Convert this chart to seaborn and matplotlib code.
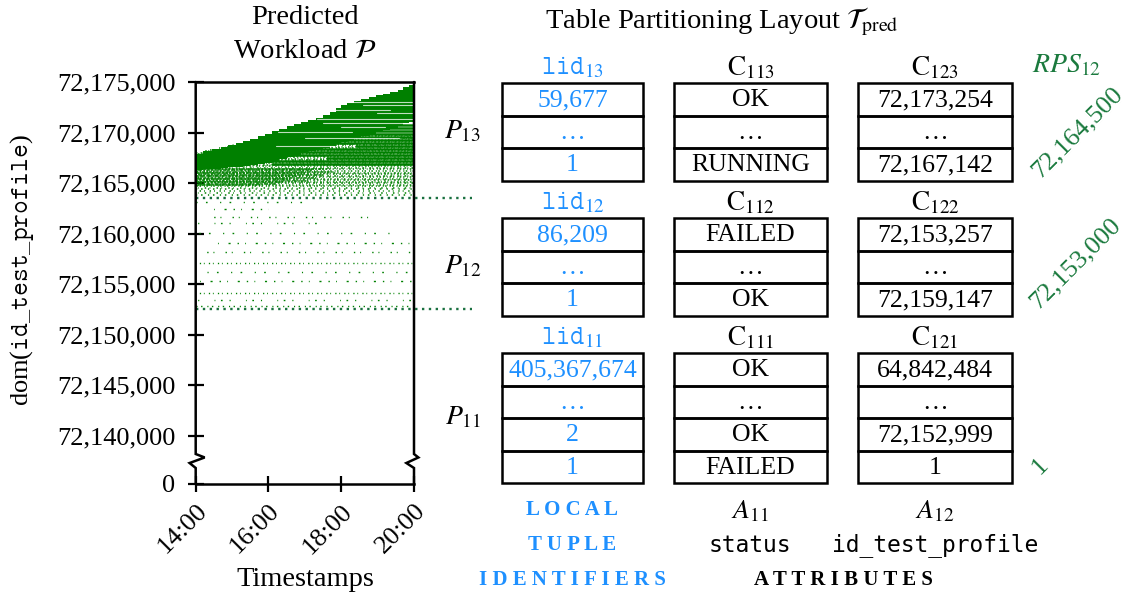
import numpy as np
import pandas as pd
import matplotlib
matplotlib.use("Agg")
import matplotlib.pyplot as plt
import seaborn as sns
from matplotlib.patches import Rectangle

# ---------------- workload data ----------------
env_time = [14.00, 14.20, 14.45, 14.70, 14.90, 15.10, 15.30, 15.50, 15.70, 15.90,
            16.10, 16.30, 16.50, 16.70, 16.90, 17.10, 17.30, 17.50, 17.70, 17.85,
            18.00, 18.15, 18.35, 18.55, 18.75, 18.95, 19.15, 19.35, 19.55, 19.70,
            19.85, 20.00]
env_top = [72167900, 72168150, 72168400, 72168600, 72168750, 72168950, 72169150,
           72169400, 72169650, 72169900, 72170150, 72170400, 72170600, 72170800,
           72171050, 72171250, 72171450, 72171700, 72172050, 72172400, 72172700,
           72172950, 72173150, 72173350, 72173550, 72173700, 72173850, 72174000,
           72174250, 72174500, 72174700, 72174750]
env_base = [72166300, 72166350, 72166400, 72166500, 72166550, 72166600, 72166700,
            72166800, 72166900, 72167000, 72167200, 72167400, 72167600, 72167800,
            72168000, 72168200, 72168300, 72168500, 72168700, 72168900, 72169100,
            72169300, 72169500, 72169700, 72169900, 72170100, 72170300, 72170500,
            72170700, 72170900, 72171000, 72171000]

# long running queries (run until the end of the window)
long_val = [72170750, 72170450, 72170200, 72169850, 72169550, 72169250, 72168950,
            72168650, 72168350, 72168050, 72167750, 72167450, 72167150, 72166850]
long_start = [16.90, 17.40, 16.60, 17.90, 16.30, 17.20, 15.90,
              18.40, 15.50, 16.80, 15.20, 17.60, 14.90, 16.10]

# light streaks inside the dense block
gap_val = [72173050, 72172730, 72172230, 72171900, 72171300, 72170900, 72170580,
           72170090, 72169500, 72168700]
gap_start = [18.15, 18.60, 17.77, 18.97, 17.33, 17.50, 18.00, 16.27, 17.00, 16.20]
gap_end = [20.00, 20.00, 19.34, 20.00, 20.00, 20.00, 19.20, 18.30, 19.60, 17.80]

# dense scattered accesses just below the block (whole window)
dense_val = [72169800, 72169650, 72169500, 72169350, 72169200, 72169050, 72168900,
             72168750, 72168600, 72168450, 72168300, 72168150, 72168000, 72167850,
             72167700, 72167550, 72167400, 72167250, 72167100, 72166950, 72166800,
             72166650, 72166500, 72166350, 72166200, 72166050, 72165900, 72165750,
             72165600, 72165450, 72165300, 72165150, 72165000, 72164850, 72164700,
             72164550, 72164400, 72164250, 72164050, 72163850]
dense_start = [16.80, 16.40, 16.10, 15.90, 15.60, 15.40, 15.20,
               15.00, 14.80, 14.60, 14.40, 14.20, 14.00, 14.00,
               14.00, 14.00, 14.00, 14.00, 14.00, 14.00, 14.00,
               14.00, 14.00, 14.00, 14.00, 14.00, 14.00, 14.00,
               14.00, 14.00, 14.00, 14.00, 14.00, 14.00, 14.00,
               14.00, 14.00, 14.00, 14.00, 14.00]
# extra-dense accesses early in the window
early_val = [72166425, 72166275, 72166125, 72165975, 72165825, 72165675, 72165525,
             72165375, 72165225, 72165075, 72164925, 72164775]
early_end = [17.60, 17.20, 17.80, 17.00, 17.50, 16.80, 17.30, 16.60, 17.10, 16.40,
             16.20, 15.80]

# sparse accesses in the middle partition
sparse_val = [72163150, 72162400, 72161650, 72161050, 72160050, 72159100, 72158200,
              72157100, 72156200, 72155300, 72154100, 72153450, 72152850]
sparse_start = [14.00, 14.40, 14.20, 14.00, 14.10, 14.50, 14.00,
                14.00, 14.30, 14.00, 14.00, 14.00, 14.00]
sparse_end = [17.00, 16.00, 18.80, 17.50, 19.50, 20.00, 20.00,
              20.00, 20.00, 20.00, 20.00, 20.00, 20.00]

rps_bound_vals = [72163550, 72152550]

ytick_vals = [72135250, 72140000, 72145000, 72150000, 72155000, 72160000,
              72165000, 72170000, 72175000]
ytick_labels = ["0", "72,140,000", "72,145,000", "72,150,000", "72,155,000",
                "72,160,000", "72,165,000", "72,170,000", "72,175,000"]
xtick_vals = [14, 16, 18, 20]
xtick_labels = ["14:00", "16:00", "18:00", "20:00"]

# ---------------- table data ----------------
part_ids = ["13", "12", "11"]
status_ids = ["113", "112", "111"]
profile_ids = ["123", "122", "121"]
lid_cells = [["59,677", "\u2026", "1"],
             ["86,209", "\u2026", "1"],
             ["405,367,674", "\u2026", "2", "1"]]
status_cells = [["OK", "\u2026", "RUNNING"],
                ["FAILED", "\u2026", "OK"],
                ["OK", "\u2026", "OK", "FAILED"]]
profile_cells = [["72,173,254", "\u2026", "72,167,142"],
                 ["72,153,257", "\u2026", "72,159,147"],
                 ["64,842,484", "\u2026", "72,152,999", "1"]]
rps_labels = ["72,164,500", "72,153,000", "1"]

# ---------------- style ----------------
sns.set_theme(style="white")
plt.rcParams["font.family"] = ["Liberation Serif", "DejaVu Serif"]
plt.rcParams["mathtext.fontset"] = "stix"
plt.rcParams["mathtext.tt"] = "DejaVu Sans Mono"
plt.rcParams["text.color"] = "black"
plt.rcParams["xtick.color"] = "black"
plt.rcParams["ytick.color"] = "black"

GREEN = "#008000"
DKGREEN = "#1a7040"
LBLGREEN = "#1b7a3e"
BLUE = "#1E90FF"
FS = 19

W, H = 1137, 601
fig = plt.figure(figsize=(W / 100, H / 100), dpi=100)
ax = fig.add_axes([195.7 / W, 1 - 484 / H, 218.3 / W, 402 / H])

medium_pat = [(0, (1.0, 1.0, 0.5, 1.6, 1.3, 1.2)), (0.8, (0.7, 1.5, 1.1, 0.9)),
              (1.6, (1.2, 0.8, 0.6, 2.0)), (0.4, (0.5, 1.2, 1.0, 1.3, 0.8, 1.8)),
              (2.2, (1.0, 1.9, 0.7, 0.9))]
dense_pat = [(0, (2.0, 0.6, 1.2, 0.9)), (0.9, (1.5, 0.8, 2.5, 0.6)),
             (0.3, (1.8, 1.0, 1.0, 0.5))]
sparse_pat = [(0, (0.8, 6, 1.2, 9)), (3, (1.0, 4.5, 0.6, 7, 1.5, 5)),
              (1, (0.7, 8, 1.0, 3.5)), (5, (1.2, 5, 0.8, 11, 0.6, 4))]
light_pat = [(0, (0.8, 2.5, 1.0, 3.5)), (1.2, (0.6, 3.0, 0.9, 2.0)),
             (2.0, (1.0, 2.2, 0.5, 4.0))]

# speckle rows
for i, (v, s) in enumerate(zip(dense_val, dense_start)):
    pat = medium_pat[i % len(medium_pat)]
    if v < 72164600:
        pat = light_pat[i % len(light_pat)]
    ax.hlines(v, s, 20.0, colors=GREEN, linewidth=1.1, linestyles=[pat], zorder=1)
for i, (v, e) in enumerate(zip(early_val, early_end)):
    ax.hlines(v, 14.0, e, colors=GREEN, linewidth=1.1,
              linestyles=[dense_pat[i % len(dense_pat)]], zorder=1)
for i, (v, s, e) in enumerate(zip(sparse_val, sparse_start, sparse_end)):
    pat = sparse_pat[i % len(sparse_pat)]
    if v in (72157100, 72154100, 72152850):
        pat = light_pat[i % len(light_pat)]
    ax.hlines(v, s, e, colors=GREEN, linewidth=1.0, linestyles=[pat], zorder=1)

# main block
ax.fill_between(env_time, env_base, env_top, step="post", color=GREEN, lw=0, zorder=2)

n = len(long_val)
seg = pd.DataFrame({
    "seg": np.repeat(np.arange(n), 2),
    "time": np.ravel(np.column_stack([long_start, [20.0] * n])),
    "value": np.repeat(long_val, 2),
})
sns.lineplot(data=seg, x="time", y="value", units="seg", estimator=None, sort=False,
             color=GREEN, lw=1.8, ax=ax, legend=False, zorder=3)

m = len(gap_val)
gaps = pd.DataFrame({
    "seg": np.repeat(np.arange(m), 2),
    "time": np.ravel(np.column_stack([gap_start, gap_end])),
    "value": np.repeat(gap_val, 2),
})
sns.lineplot(data=gaps, x="time", y="value", units="seg", estimator=None, sort=False,
             color="white", lw=0.8, alpha=0.75, ax=ax, legend=False, zorder=4)

# partition boundaries (extend to the table)
for v in rps_bound_vals:
    ax.hlines(v, 14.0, 21.6, colors=DKGREEN, linewidth=1.7,
              linestyles=[(0, (1, 1.9))], clip_on=False, zorder=5)

ax.set_xlim(14, 20)
ax.set_ylim(72135250, 72175000)
ax.set_xlabel("")
ax.set_ylabel("")
ax.set_xticks(xtick_vals)
ax.set_xticklabels(xtick_labels, rotation=45, ha="right", va="top",
                   rotation_mode="anchor")
ax.set_yticks(ytick_vals)
ax.set_yticklabels(ytick_labels)
ax.tick_params(axis="both", direction="inout", length=11, width=1.6,
               labelsize=FS, colors="black", bottom=True, left=True)
ax.tick_params(axis="y", pad=9)
ax.tick_params(axis="x", pad=6)
for s in ["top", "bottom"]:
    ax.spines[s].set_color("black")
    ax.spines[s].set_linewidth(1.8)
for s in ["left", "right"]:
    ax.spines[s].set_visible(False)
# spines with axis-break marks
yb1, ym, yb2 = 0.0746, 0.0522, 0.0398
ax.plot([0, 0, 0.041, -0.028, 0, 0], [1, yb1, 0.066, ym, yb2, 0],
        transform=ax.transAxes, color="black", lw=1.8, clip_on=False, zorder=6,
        solid_joinstyle="miter")
ax.plot([1, 1, 1.02, 0.965, 1, 1], [1, yb1, 0.066, ym, yb2, 0],
        transform=ax.transAxes, color="black", lw=1.8, clip_on=False, zorder=6,
        solid_joinstyle="miter")

# ---------------- diagram overlay ----------------
dax = fig.add_axes([0, 0, 1, 1])
dax.set_xlim(0, W)
dax.set_ylim(H, 0)
dax.axis("off")

TFS = FS + 1.5
dax.text(305, 18, "Predicted", ha="center", va="center", fontsize=TFS)
dax.text(305, 52, r"Workload $\mathcal{P}$", ha="center", va="center", fontsize=TFS)
dax.text(722, 22, r"Table Partitioning Layout $\mathcal{T}_{\mathrm{pred}}$",
         ha="center", va="center", fontsize=TFS)
dax.text(305, 580, "Timestamps", ha="center", va="center", fontsize=TFS)
dax.text(22, 270, r"dom($\mathtt{id\_test\_profile}$)", ha="center", va="center",
         rotation=90, fontsize=FS)

col_left = [502, 674, 858]
col_width = [141, 153, 154]
part_top = [83, 218, 353]
row_h = 32.5
columns = [lid_cells, status_cells, profile_cells]
col_color = [BLUE, "black", "black"]

for p in range(3):
    top = part_top[p]
    nrows = len(lid_cells[p])
    headers = [r"$\mathtt{lid}_{%s}$" % part_ids[p],
               r"$\mathrm{C}_{%s}$" % status_ids[p],
               r"$\mathrm{C}_{%s}$" % profile_ids[p]]
    for c in range(3):
        x0, w = col_left[c], col_width[c]
        dax.text(x0 + w / 2, top - 15, headers[c], ha="center", va="center",
                 fontsize=FS + 0.5, color=col_color[c])
        for r in range(nrows):
            y0 = top + r * row_h
            dax.add_patch(Rectangle((x0, y0), w, row_h, fill=False,
                                    edgecolor="black", lw=1.8))
            dax.text(x0 + w / 2, y0 + row_h / 2 + 1, columns[c][p][r], ha="center",
                     va="center", fontsize=FS - 0.5, color=col_color[c])
    dax.text(463, top + nrows * row_h / 2, r"$P_{%s}$" % part_ids[p], ha="center",
             va="center", fontsize=FS + 1)

# range partition split labels
dax.text(1067, 66, r"$RPS_{12}$", ha="center", va="center", fontsize=FS + 1,
         color=LBLGREEN)
rps_pos = [(1077, 132), (1075, 263), (1040, 466)]
for lbl, (x, y) in zip(rps_labels, rps_pos):
    dax.text(x, y, lbl, ha="center", va="center", rotation=45,
             rotation_mode="anchor", fontsize=FS, color=LBLGREEN)

# bottom annotations
def spaced(s):
    return " ".join(s)

for txt, y in zip(["LOCAL", "TUPLE", "IDENTIFIERS"], [510, 545, 580]):
    dax.text(572.5, y, spaced(txt), ha="center", va="center", fontsize=15,
             fontweight="bold", color=BLUE)
dax.text(750, 512, r"$A_{11}$", ha="center", va="center", fontsize=FS + 1)
dax.text(935, 512, r"$A_{12}$", ha="center", va="center", fontsize=FS + 1)
dax.text(750, 545, "status", ha="center", va="center", fontsize=16.5,
         family="DejaVu Sans Mono")
dax.text(935, 545, "id_test_profile", ha="center", va="center", fontsize=16.5,
         family="DejaVu Sans Mono")
dax.text(843, 580, spaced("ATTRIBUTES"), ha="center", va="center", fontsize=15,
         fontweight="bold", color="black")

fig.savefig("out.png", dpi=100)
